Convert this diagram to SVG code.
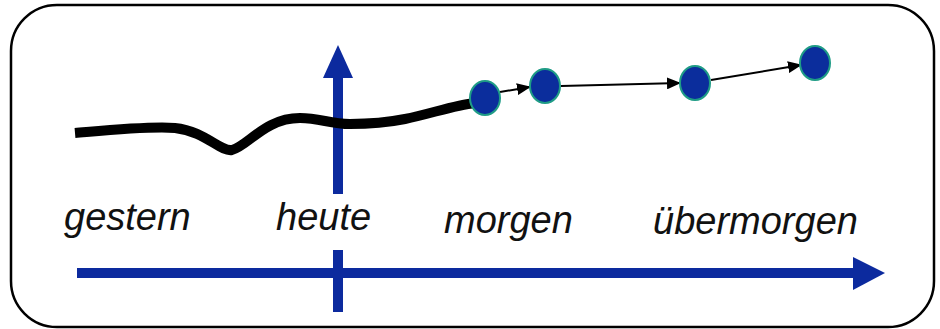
<svg xmlns="http://www.w3.org/2000/svg" width="940" height="329" viewBox="0 0 940 329">
<style>
.lbl{font-family:"Liberation Sans",Arial,sans-serif;font-style:italic;font-size:38px;fill:#111}
.node{fill:#0b2d9c;stroke:#1f9c86;stroke-width:2}
.conn{stroke:#000;stroke-width:2;fill:none}
.axis{fill:#0c2a9e}
</style>
<defs>
<marker id="ah" markerWidth="8" markerHeight="8" refX="7" refY="4" orient="auto" markerUnits="userSpaceOnUse" viewBox="0 0 8 8">
<path d="M0,0 L8,4 L0,8 z" fill="#000"/>
</marker>
<marker id="ah2" markerWidth="14" markerHeight="12" refX="13" refY="6" orient="auto" markerUnits="userSpaceOnUse" viewBox="0 0 14 12">
<path d="M0,0 L14,6 L0,12 z" fill="#000"/>
</marker>
</defs>
<rect x="11" y="5" width="923" height="322" rx="46" ry="46" fill="#fff" stroke="#000" stroke-width="2.5"/>
<g id="axes">
<rect class="axis" x="77" y="268" width="778" height="10"/>
<polygon class="axis" points="853,257 885,273 853,290"/>
<rect class="axis" x="333" y="250" width="10" height="62"/>
<rect class="axis" x="333" y="76" width="10" height="118"/>
<polygon class="axis" points="323,78 338,45 353,78"/>
</g>
<path d="M75,133 C110,130 150,126 175,128 C205,131 220,152 232,150 C248,146 265,118 300,118 C320,118 330,124 350,124 C370,124 385,123 405,119 C430,114 455,105 475,103" fill="none" stroke="#000" stroke-width="10" stroke-linejoin="round"/>
<g id="connectors">
<line class="conn" x1="500" y1="92" x2="530" y2="87" marker-end="url(#ah2)"/>
<line class="conn" x1="561" y1="86" x2="680" y2="83" marker-end="url(#ah2)"/>
<line class="conn" x1="711" y1="80" x2="801" y2="65" marker-end="url(#ah2)"/>
</g>
<g id="n1"><ellipse class="node" cx="485" cy="98" rx="15" ry="17"/></g>
<g id="n2"><ellipse class="node" cx="545" cy="86" rx="15" ry="17"/></g>
<g id="n3"><ellipse class="node" cx="695" cy="83" rx="15" ry="17"/></g>
<g id="n4"><ellipse class="node" cx="815" cy="63" rx="15" ry="17"/></g>
<g id="labels">
<text class="lbl" x="64" y="230">gestern</text>
<text class="lbl" x="276" y="230">heute</text>
<text class="lbl" x="444" y="233">morgen</text>
<text class="lbl" x="653" y="234">übermorgen</text>
</g>
</svg>
